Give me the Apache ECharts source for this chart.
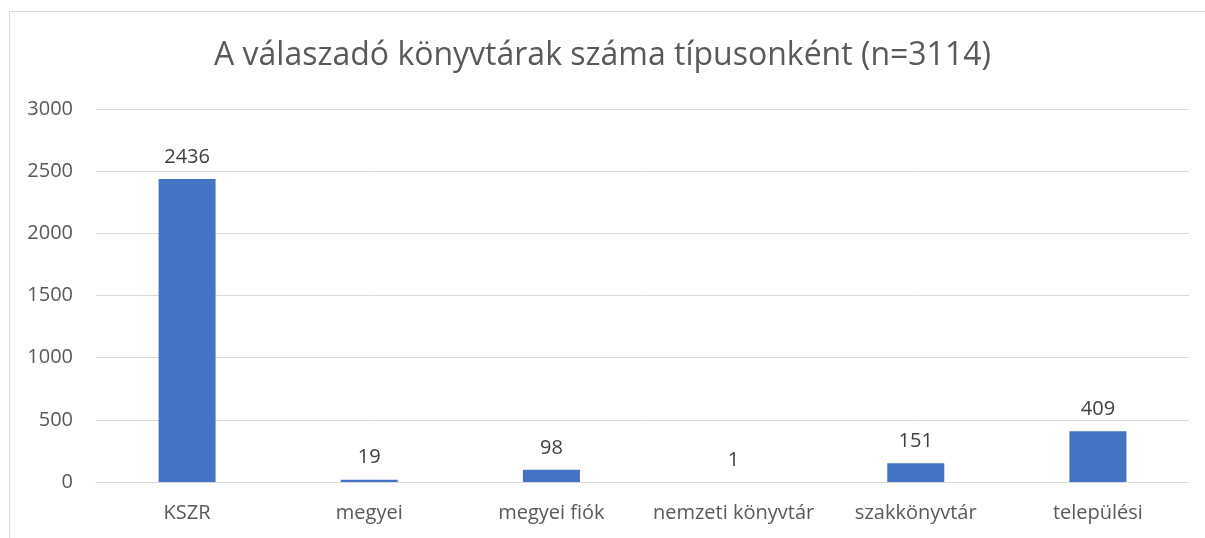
<!DOCTYPE html>
<html>
<head>
<meta charset="utf-8">
<script src="https://cdn.jsdelivr.net/npm/echarts@6/dist/echarts.min.js"></script>
<style>
  html, body { margin: 0; padding: 0; background: #fff; }
  .frame {
    position: absolute; left: 9px; top: 11px;
    width: 1220px; height: 560px;
    border: 1px solid #d9d9d9;
  }
  #chart { position: absolute; left: 0; top: 0; width: 1205px; height: 538px; }
</style>
</head>
<body>
<div class="frame"></div>
<div id="chart"></div>
<script>
const categories = ['KSZR', 'megyei', 'megyei fiók', 'nemzeti könyvtár', 'szakkönyvtár', 'települési'];
const counts = [2436, 19, 98, 1, 151, 409];
const titleText = 'A válaszadó könyvtárak száma típusonként (n=3114)';

const font = '"Open Sans", sans-serif';
const chart = echarts.init(document.getElementById('chart'));
chart.setOption({
  animation: false,
  title: {
    text: titleText,
    left: 'center',
    top: 35,
    textStyle: { fontFamily: font, fontSize: 32, fontWeight: 'normal', color: '#595959' }
  },
  grid: { left: 96, right: 16, top: 109, bottom: 56 },
  xAxis: {
    type: 'category',
    data: categories,
    axisLine: { lineStyle: { color: '#d9d9d9' } },
    axisTick: { show: false },
    axisLabel: { interval: 0, fontFamily: font, fontSize: 20, color: '#595959', margin: 21 }
  },
  yAxis: {
    type: 'value',
    min: 0, max: 3000, interval: 500,
    axisLine: { show: false },
    axisTick: { show: false },
    splitLine: { lineStyle: { color: '#d9d9d9' } },
    axisLabel: { fontFamily: font, fontSize: 20, color: '#595959', margin: 23, formatter: v => String(v) }
  },
  series: [{
    type: 'bar',
    data: counts,
    barWidth: 57,
    itemStyle: { color: '#4472c4' },
    label: {
      show: true, position: 'top', distance: 12,
      fontFamily: font, fontSize: 20, color: '#404040'
    }
  }]
});
</script>
</body>
</html>
